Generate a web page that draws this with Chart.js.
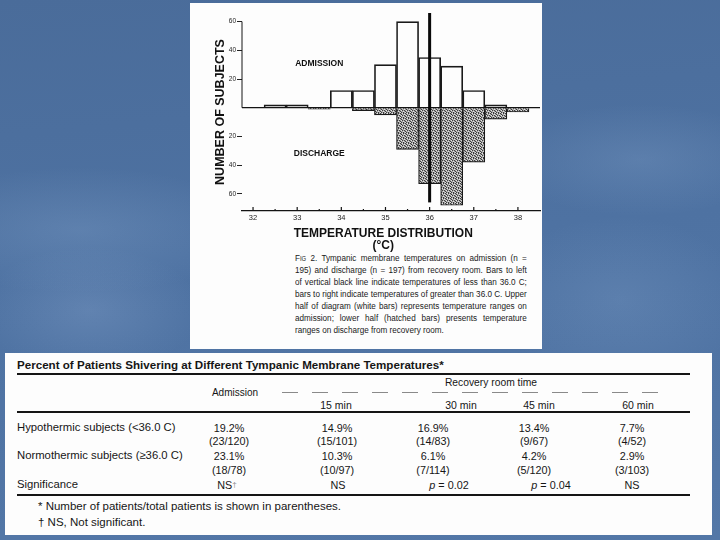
<!DOCTYPE html>
<html>
<head>
<meta charset="utf-8">
<title>Tympanic membrane temperatures</title>
<script src="https://cdn.jsdelivr.net/npm/chart.js@4.4.1/dist/chart.umd.min.js"></script>
<style>
  html, body { margin: 0; padding: 0; }
  body {
    width: 720px; height: 540px; position: relative; overflow: hidden;
    font-family: "Liberation Sans", Arial, Helvetica, sans-serif;
    color: #161616;
    background:
      radial-gradient(ellipse 260px 90px at 80px 230px, rgba(160,190,225,0.20), rgba(160,190,225,0) 70%),
      radial-gradient(ellipse 200px 80px at 640px 160px, rgba(160,190,225,0.18), rgba(160,190,225,0) 70%),
      radial-gradient(ellipse 180px 120px at 620px 300px, rgba(160,190,225,0.16), rgba(160,190,225,0) 70%),
      radial-gradient(ellipse 160px 90px at 90px 310px, rgba(170,195,230,0.20), rgba(170,195,230,0) 70%),
      linear-gradient(175deg, #4a6c9a 0%, #4e72a2 45%, #5377a7 100%);
  }
  .panel { position: absolute; background: #fdfdfd; }
  #figurePanel { left: 190px; top: 3px; width: 352px; height: 346px; }
  #tablePanel { left: 5px; top: 353px; width: 707px; height: 182px; }
  #chart { position: absolute; left: 190px; top: 3px; }
  .t { position: absolute; white-space: nowrap; line-height: 1; }
  .rule { position: absolute; background: #151515; }
  #caption {
    position: absolute; left: 295px; top: 252px; width: 276px;
    transform: scaleX(0.84); transform-origin: 0 0;
    font-size: 9.7px; line-height: 12px; color: #1a1a1a;
  }
  #caption div { white-space: nowrap; text-align: justify; text-align-last: justify; }
  #caption div.last { text-align-last: left; }
</style>
</head>
<body>
<div class="panel" id="figurePanel"></div>
<div class="panel" id="tablePanel"></div>
<canvas id="chart" width="352" height="249"></canvas>

<div id="caption">
  <div><span style="font-variant: small-caps">Fig</span> 2. Tympanic membrane temperatures on admission (n =</div>
  <div>195) and discharge (n = 197) from recovery room. Bars to left</div>
  <div>of vertical black line indicate temperatures of less than 36.0 C;</div>
  <div>bars to right indicate temperatures of greater than 36.0 C. Upper</div>
  <div>half of diagram (white bars) represents temperature ranges on</div>
  <div>admission; lower half (hatched bars) presents temperature</div>
  <div class="last">ranges on discharge from recovery room.</div>
</div>

<script>
// histogram bins (0.5 C wide), counts
const binCenters = [32.5, 33, 33.5, 34, 34.5, 35, 35.5, 36, 36.5, 37, 37.5, 38];
const admissionCounts = [2, 2, 0, 12, 12, 30, 60, 35, 29, 12, 2, 0];
const dischargeCounts = [0, 0, 1, 0, 2, 5, 29, 53, 68, 38, 8, 3];
const xTickValues = [32, 32.5, 33, 33.5, 34, 34.5, 35, 35.5, 36, 36.5, 37, 37.5, 38];
const yTickValues = [-60, -40, -20, 0, 20, 40, 60];
const cutoffTemp = 36.0;
const groupLabels = ['ADMISSION', 'DISCHARGE'];
const xTitle = ['TEMPERATURE DISTRIBUTION', '(\u00b0C)'];
const yTitle = 'NUMBER OF SUBJECTS';

// table contents
const tableTitle = 'Percent of Patients Shivering at Different Tympanic Membrane Temperatures';
const groupHead = 'Recovery room time';
const columnHeads = ['Admission', '15 min', '30 min', '45 min', '60 min'];
const rowLabels = ['Hypothermic subjects (<36.0 C)', 'Normothermic subjects (\u226536.0 C)', 'Significance'];
const hypoPercent = ['19.2%', '14.9%', '16.9%', '13.4%', '7.7%'];
const hypoCounts = ['(23/120)', '(15/101)', '(14/83)', '(9/67)', '(4/52)'];
const normoPercent = ['23.1%', '10.3%', '6.1%', '4.2%', '2.9%'];
const normoCounts = ['(18/78)', '(10/97)', '(7/114)', '(5/120)', '(3/103)'];
const significance = ['NS<span style="color:#888;font-size:8px;vertical-align:2px">\u2020</span>', 'NS',
    '<i>p</i> = 0.02', '<i>p</i> = 0.04', 'NS'];
const footnotes = ['* Number of patients/total patients is shown in parentheses.', '\u2020 NS, Not significant.'];

const FONT = '"Liberation Sans", Arial, sans-serif';

/**
 * Gray stipple used for the discharge (hatched) bars
 */
function makeStipple(ctx) {
    const c = document.createElement('canvas');
    c.width = 5; c.height = 5;
    const g = c.getContext('2d');
    g.fillStyle = '#a9a9a9';
    g.fillRect(0, 0, 5, 5);
    g.fillStyle = '#3c3c3c';
    [[0, 0], [3, 0], [1, 1], [4, 2], [2, 2], [0, 3], [3, 4], [1, 4]].forEach(([x, y]) => g.fillRect(x, y, 1, 1));
    g.fillStyle = '#e4e4e4';
    [[2, 0], [4, 1], [1, 2], [3, 3], [0, 4]].forEach(([x, y]) => g.fillRect(x, y, 1, 1));
    return ctx.createPattern(c, 'repeat');
}

// axis lines, inward x ticks, 36 C line, group labels and axis title
const figureDecor = {
    id: 'figureDecor',
    afterDatasetsDraw(chart) {
        const { ctx, chartArea, scales: { x, y } } = chart;
        const y0 = y.getPixelForValue(0);
        ctx.save();
        ctx.strokeStyle = '#141414';

        // zero baseline
        ctx.lineWidth = 1.2;
        ctx.beginPath();
        ctx.moveTo(chartArea.left, y0);
        ctx.lineTo(chartArea.right, y0);
        ctx.stroke();

        // y axis line over the upper half only
        ctx.lineWidth = 1;
        ctx.beginPath();
        ctx.moveTo(chartArea.left, y.getPixelForValue(60));
        ctx.lineTo(chartArea.left, y0);
        ctx.stroke();

        // x tick marks pointing up into the plot
        const bottom = chartArea.bottom;
        x.ticks.forEach(t => {
            const px = x.getPixelForValue(t.value);
            const len = Number.isInteger(t.value) ? 4 : 2;
            ctx.lineWidth = 1.2;
            ctx.beginPath();
            ctx.moveTo(px, bottom);
            ctx.lineTo(px, bottom - len);
            ctx.stroke();
        });

        // vertical black line at 36.0 C
        const cx = x.getPixelForValue(cutoffTemp);
        ctx.lineWidth = 3;
        ctx.strokeStyle = '#0a0a0a';
        ctx.beginPath();
        ctx.moveTo(cx, chartArea.top);
        ctx.lineTo(cx, y.getPixelForValue(-66));
        ctx.stroke();

        // group labels
        ctx.fillStyle = '#111';
        ctx.font = 'bold 8.5px ' + FONT;
        ctx.textAlign = 'center';
        ctx.textBaseline = 'middle';
        ctx.fillText(groupLabels[0], x.getPixelForValue(33.5), y.getPixelForValue(31));
        ctx.fillText(groupLabels[1], x.getPixelForValue(33.5), y.getPixelForValue(-32));

        // x axis title, centred under 35 C like the original
        ctx.font = 'bold 12px ' + FONT;
        const tx = x.getPixelForValue(34.95);
        ctx.fillText(xTitle[0], tx, bottom + 23);
        ctx.fillText(xTitle[1], tx, bottom + 35);
        ctx.restore();
    }
};

const canvas = document.getElementById('chart');
const stipple = makeStipple(canvas.getContext('2d'));

new Chart(canvas, {
    type: 'bar',
    data: {
        datasets: [{
            label: 'Admission',
            data: binCenters.map((v, i) => ({ x: v, y: admissionCounts[i] })),
            backgroundColor: 'rgba(255,255,255,0)',
            borderColor: '#1a1a1a',
            borderWidth: 1,
            borderSkipped: 'start',
            grouped: false,
            barPercentage: 1,
            categoryPercentage: 1
        }, {
            label: 'Discharge',
            data: binCenters.map((v, i) => ({ x: v, y: -dischargeCounts[i] })),
            backgroundColor: stipple,
            borderColor: '#1a1a1a',
            borderWidth: 1.2,
            borderSkipped: 'start',
            grouped: false,
            barPercentage: 1,
            categoryPercentage: 1
        }]
    },
    options: {
        responsive: false,
        animation: false,
        layout: { padding: { top: 10, right: 2, left: 0, bottom: 0 } },
        plugins: { legend: { display: false }, tooltip: { enabled: false } },
        scales: {
            x: {
                type: 'linear',
                min: 31.75,
                max: 38.5,
                offset: false,
                afterBuildTicks: s => { s.ticks = xTickValues.map(v => ({ value: v })); },
                afterFit: s => { s.height = 41; },
                grid: { display: false, drawTicks: false },
                border: { display: true, color: '#141414', width: 1.2 },
                ticks: {
                    autoSkip: false,
                    maxRotation: 0,
                    padding: 2,
                    color: '#222',
                    font: { size: 7.5, family: FONT },
                    callback: v => Number.isInteger(v) ? String(v) : ''
                }
            },
            y: {
                min: -72,
                max: 66,
                afterBuildTicks: s => { s.ticks = yTickValues.map(v => ({ value: v })); },
                afterFit: s => { s.width = 52; },
                border: { display: false },
                grid: {
                    drawOnChartArea: false,
                    drawTicks: true,
                    tickLength: 5,
                    lineWidth: 1,
                    color: c => (c.tick && c.tick.value !== 0) ? '#222' : 'rgba(0,0,0,0)'
                },
                ticks: {
                    padding: 1,
                    color: '#222',
                    font: { size: 6.5, family: FONT },
                    callback: v => v !== 0 ? String(Math.abs(v)) : ''
                },
                title: {
                    display: true,
                    text: yTitle,
                    color: '#111',
                    padding: { top: 23, bottom: 0 },
                    font: { size: 12.5, weight: 'bold', family: FONT }
                }
            }
        }
    },
    plugins: [figureDecor]
});

// ---- table below the figure ----
function put(html, x, y, opts = {}) {
    const el = document.createElement('div');
    el.className = 't';
    el.innerHTML = html;
    el.style.left = x + 'px';
    el.style.top = y + 'px';
    el.style.fontSize = (opts.size || 11) + 'px';
    if (opts.bold) el.style.fontWeight = 'bold';
    el.style.transform = opts.center ? 'translate(-50%, -50%)' : 'translate(0, -50%)';
    document.body.appendChild(el);
}
function rule(x, y, w, h, bg) {
    const el = document.createElement('div');
    el.className = 'rule';
    Object.assign(el.style, { left: x + 'px', top: y + 'px', width: w + 'px', height: h + 'px' });
    if (bg) el.style.background = bg;
    document.body.appendChild(el);
}

const headX = [235, 336, 461, 539, 638];
const cellX = [229, 337, 433, 534, 632];
const sigX = [227, 338, 449, 551, 632];
const rowY = [428, 441, 456, 470, 485];

put(tableTitle + '*', 17, 365, { bold: true, size: 11.6 });
rule(17, 373, 673, 2);
put(groupHead, 491, 383, { center: true, size: 10.3 });
rule(282, 392, 378, 1, 'repeating-linear-gradient(90deg, #8a8a8a 0 16px, rgba(0,0,0,0) 16px 30px)');
put(columnHeads[0], headX[0], 393, { center: true, size: 10 });
columnHeads.slice(1).forEach((h, i) => put(h, headX[i + 1], 405, { center: true, size: 10.5 }));
rule(17, 411, 673, 1.5);

put(rowLabels[0], 17, rowY[0], { size: 11.3 });
put(rowLabels[1], 17, rowY[2], { size: 11.3 });
put(rowLabels[2], 17, rowY[4], { size: 11.3 });
[hypoPercent, hypoCounts, normoPercent, normoCounts].forEach((row, r) => {
    row.forEach((v, i) => put(v, cellX[i], rowY[r], { center: true, size: 10.8 }));
});
significance.forEach((v, i) => put(v, sigX[i], rowY[4], { center: true, size: 10.8 }));
rule(17, 494, 673, 2);

put(footnotes[0], 38, 507, { size: 11.5 });
put(footnotes[1], 38, 523, { size: 11.5 });
</script>
</body>
</html>
